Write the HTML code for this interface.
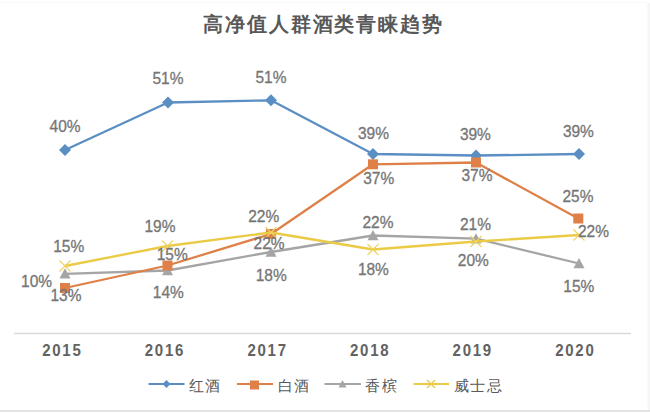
<!DOCTYPE html>
<html><head><meta charset="utf-8"><style>
html,body{margin:0;padding:0;background:#fff;}
body{width:650px;height:413px;overflow:hidden;position:relative;font-family:"Liberation Sans",sans-serif;}
svg{position:absolute;left:0;top:0;}
</style></head><body>
<svg width="650" height="413" viewBox="0 0 650 413" font-family="'Liberation Sans', sans-serif">
<rect x="0" y="0" width="650" height="413" fill="#ffffff"/>
<line x1="0" y1="411" x2="650" y2="411" stroke="#e3e3e3" stroke-width="2"/>
<rect x="647.5" y="3" width="2.5" height="407" fill="#f6f6f7"/><line x1="0" y1="2.5" x2="647" y2="2.5" stroke="#f8f8f8" stroke-width="1"/>
<text x="323.5" y="31" text-anchor="middle" font-size="20" font-weight="bold" letter-spacing="1.9" fill="#585858">高净值人群酒类青睐趋势</text>
<line x1="14" y1="333.5" x2="631" y2="333.5" stroke="#d9d9d9" stroke-width="1.5"/>

<text transform="translate(62.35,355.8) scale(1,1.04)" text-anchor="middle" font-size="15" font-weight="bold" letter-spacing="1.75" fill="#626262">2015</text>
<text transform="translate(164.95,355.8) scale(1,1.04)" text-anchor="middle" font-size="15" font-weight="bold" letter-spacing="1.75" fill="#626262">2016</text>
<text transform="translate(267.55,355.8) scale(1,1.04)" text-anchor="middle" font-size="15" font-weight="bold" letter-spacing="1.75" fill="#626262">2017</text>
<text transform="translate(370.15,355.8) scale(1,1.04)" text-anchor="middle" font-size="15" font-weight="bold" letter-spacing="1.75" fill="#626262">2018</text>
<text transform="translate(472.75,355.8) scale(1,1.04)" text-anchor="middle" font-size="15" font-weight="bold" letter-spacing="1.75" fill="#626262">2019</text>
<text transform="translate(575.35,355.8) scale(1,1.04)" text-anchor="middle" font-size="15" font-weight="bold" letter-spacing="1.75" fill="#626262">2020</text>
<polyline fill="none" stroke="#5b8fc4" stroke-width="2.3" stroke-linejoin="round" points="65,150 168,102.5 271,100.3 373,154 476,155.5 579,154"/>
<path d="M65 144L71 150L65 156L59 150Z" fill="#5b8fc4"/>
<path d="M168 96.5L174 102.5L168 108.5L162 102.5Z" fill="#5b8fc4"/>
<path d="M271 94.3L277 100.3L271 106.3L265 100.3Z" fill="#5b8fc4"/>
<path d="M373 148L379 154L373 160L367 154Z" fill="#5b8fc4"/>
<path d="M476 149.5L482 155.5L476 161.5L470 155.5Z" fill="#5b8fc4"/>
<path d="M579 148L585 154L579 160L573 154Z" fill="#5b8fc4"/>
<polyline fill="none" stroke="#a5a5a5" stroke-width="2.3" stroke-linejoin="round" points="65,273.8 167.5,270.5 271,252 373,235.5 476,238.7 579,263.5"/>
<path d="M65 268.3L70.5 278.475L59.5 278.475Z" fill="#a5a5a5"/>
<path d="M167.5 265L173 275.175L162 275.175Z" fill="#a5a5a5"/>
<path d="M271 246.5L276.5 256.675L265.5 256.675Z" fill="#a5a5a5"/>
<path d="M373 230L378.5 240.175L367.5 240.175Z" fill="#a5a5a5"/>
<path d="M476 233.2L481.5 243.375L470.5 243.375Z" fill="#a5a5a5"/>
<path d="M579 258L584.5 268.175L573.5 268.175Z" fill="#a5a5a5"/>
<polyline fill="none" stroke="#de8048" stroke-width="2.3" stroke-linejoin="round" points="65,288 167.5,265.5 271,234 373,164.3 476,162.5 578.3,218.5"/>
<rect x="60" y="283" width="10" height="10" fill="#de8048"/>
<rect x="162.5" y="260.5" width="10" height="10" fill="#de8048"/>
<rect x="266" y="229" width="10" height="10" fill="#de8048"/>
<rect x="368" y="159.3" width="10" height="10" fill="#de8048"/>
<rect x="471" y="157.5" width="10" height="10" fill="#de8048"/>
<rect x="573.3" y="213.5" width="10" height="10" fill="#de8048"/>
<polyline fill="none" stroke="#ebcb45" stroke-width="2.3" stroke-linejoin="round" points="65,266 167.5,246 271,232.5 373,249.5 476,241.5 579,235"/>
<path d="M59.5 260.5L70.5 271.5M70.5 260.5L59.5 271.5" stroke="#efd35e" stroke-width="1.1" fill="none"/>
<path d="M162 240.5L173 251.5M173 240.5L162 251.5" stroke="#efd35e" stroke-width="1.1" fill="none"/>
<path d="M265.5 227L276.5 238M276.5 227L265.5 238" stroke="#efd35e" stroke-width="1.1" fill="none"/>
<path d="M367.5 244L378.5 255M378.5 244L367.5 255" stroke="#efd35e" stroke-width="1.1" fill="none"/>
<path d="M470.5 236L481.5 247M481.5 236L470.5 247" stroke="#efd35e" stroke-width="1.1" fill="none"/>
<path d="M573.5 229.5L584.5 240.5M584.5 229.5L573.5 240.5" stroke="#efd35e" stroke-width="1.1" fill="none"/>
<text transform="translate(65.1,131.9) scale(1,1.1)" text-anchor="middle" font-size="15.5" fill="#767676" stroke="#767676" stroke-width="0.3">40%</text>
<text transform="translate(168,84.4) scale(1,1.1)" text-anchor="middle" font-size="15.5" fill="#767676" stroke="#767676" stroke-width="0.3">51%</text>
<text transform="translate(271,83.4) scale(1,1.1)" text-anchor="middle" font-size="15.5" fill="#767676" stroke="#767676" stroke-width="0.3">51%</text>
<text transform="translate(373.5,138.9) scale(1,1.1)" text-anchor="middle" font-size="15.5" fill="#767676" stroke="#767676" stroke-width="0.3">39%</text>
<text transform="translate(475.4,139.7) scale(1,1.1)" text-anchor="middle" font-size="15.5" fill="#767676" stroke="#767676" stroke-width="0.3">39%</text>
<text transform="translate(578.4,136.9) scale(1,1.1)" text-anchor="middle" font-size="15.5" fill="#767676" stroke="#767676" stroke-width="0.3">39%</text>
<text transform="translate(378.7,184.4) scale(1,1.1)" text-anchor="middle" font-size="15.5" fill="#767676" stroke="#767676" stroke-width="0.3">37%</text>
<text transform="translate(477,180.7) scale(1,1.1)" text-anchor="middle" font-size="15.5" fill="#767676" stroke="#767676" stroke-width="0.3">37%</text>
<text transform="translate(578,202.4) scale(1,1.1)" text-anchor="middle" font-size="15.5" fill="#767676" stroke="#767676" stroke-width="0.3">25%</text>
<text transform="translate(68.7,251.9) scale(1,1.1)" text-anchor="middle" font-size="15.5" fill="#767676" stroke="#767676" stroke-width="0.3">15%</text>
<text transform="translate(36.6,287.4) scale(1,1.1)" text-anchor="middle" font-size="15.5" fill="#767676" stroke="#767676" stroke-width="0.3">10%</text>
<text transform="translate(66,301.1) scale(1,1.1)" text-anchor="middle" font-size="15.5" fill="#767676" stroke="#767676" stroke-width="0.3">13%</text>
<text transform="translate(160,232.4) scale(1,1.1)" text-anchor="middle" font-size="15.5" fill="#767676" stroke="#767676" stroke-width="0.3">19%</text>
<text transform="translate(172.2,259.9) scale(1,1.1)" text-anchor="middle" font-size="15.5" fill="#767676" stroke="#767676" stroke-width="0.3">15%</text>
<text transform="translate(168.3,297.7) scale(1,1.1)" text-anchor="middle" font-size="15.5" fill="#767676" stroke="#767676" stroke-width="0.3">14%</text>
<text transform="translate(263.7,221.7) scale(1,1.1)" text-anchor="middle" font-size="15.5" fill="#767676" stroke="#767676" stroke-width="0.3">22%</text>
<text transform="translate(269.1,248.9) scale(1,1.1)" text-anchor="middle" font-size="15.5" fill="#767676" stroke="#767676" stroke-width="0.3">22%</text>
<text transform="translate(271.2,280.9) scale(1,1.1)" text-anchor="middle" font-size="15.5" fill="#767676" stroke="#767676" stroke-width="0.3">18%</text>
<text transform="translate(378,227.7) scale(1,1.1)" text-anchor="middle" font-size="15.5" fill="#767676" stroke="#767676" stroke-width="0.3">22%</text>
<text transform="translate(373.4,275.2) scale(1,1.1)" text-anchor="middle" font-size="15.5" fill="#767676" stroke="#767676" stroke-width="0.3">18%</text>
<text transform="translate(475.5,230.2) scale(1,1.1)" text-anchor="middle" font-size="15.5" fill="#767676" stroke="#767676" stroke-width="0.3">21%</text>
<text transform="translate(473.3,265.9) scale(1,1.1)" text-anchor="middle" font-size="15.5" fill="#767676" stroke="#767676" stroke-width="0.3">20%</text>
<text transform="translate(593.5,237.4) scale(1,1.1)" text-anchor="middle" font-size="15.5" fill="#767676" stroke="#767676" stroke-width="0.3">22%</text>
<text transform="translate(578.8,291.9) scale(1,1.1)" text-anchor="middle" font-size="15.5" fill="#767676" stroke="#767676" stroke-width="0.3">15%</text>
<line x1="148.5" y1="384" x2="184.5" y2="384" stroke="#5b8fc4" stroke-width="2.2"/>
<path d="M166.5 380L170.5 384L166.5 388L162.5 384Z" fill="#5b8fc4"/>
<text x="188.5" y="391.3" font-size="15" letter-spacing="1.5" fill="#595959">红酒</text>
<line x1="237" y1="384" x2="273" y2="384" stroke="#de8048" stroke-width="2.2"/>
<rect x="250" y="380.5" width="9" height="9" fill="#de8048"/>
<text x="277.5" y="391.3" font-size="15" letter-spacing="1.5" fill="#595959">白酒</text>
<line x1="324.5" y1="384" x2="361" y2="384" stroke="#a5a5a5" stroke-width="2.2"/>
<path d="M342.5 380L346.5 387.4L338.5 387.4Z" fill="#a5a5a5"/>
<text x="365" y="391.3" font-size="15" letter-spacing="1.5" fill="#595959">香槟</text>
<line x1="413.5" y1="384" x2="449" y2="384" stroke="#ebcb45" stroke-width="2.2"/>
<path d="M427 380L435 388M435 380L427 388" stroke="#ebcb45" stroke-width="1.3" fill="none"/>
<text x="453.5" y="391.3" font-size="15" letter-spacing="1.5" fill="#595959">威士忌</text>
</svg></body></html>
